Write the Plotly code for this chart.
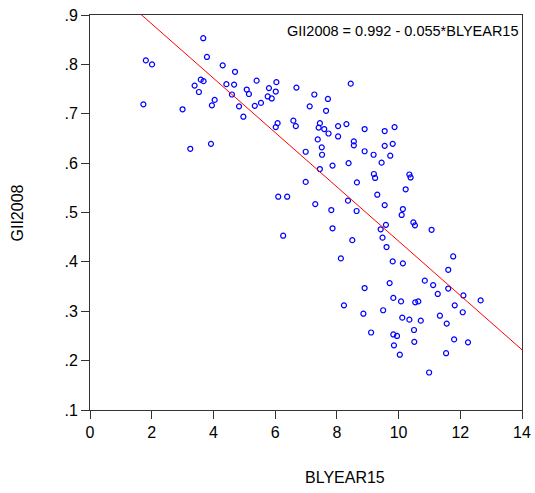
import plotly.graph_objects as go

# Scatter data (BLYEAR15, GII2008)
blyear15 = [
    3.67, 1.81, 2.01, 3.79, 4.30, 4.70, 3.59, 3.68, 3.39, 4.42,
    4.67, 3.53, 4.60, 1.73, 4.04, 3.95, 3.00, 3.92, 3.25, 5.40,
    5.08, 5.15, 4.83, 4.97, 5.80, 6.04, 6.02, 5.76, 5.89, 5.34,
    5.54, 6.69, 6.08, 6.02, 6.59, 6.67, 7.27, 7.71, 7.12, 7.65,
    8.45, 7.45, 7.41, 7.59, 7.73, 8.04, 8.31, 8.04, 8.90, 7.38,
    7.51, 6.99, 7.52, 8.55, 8.55, 8.90, 8.38, 7.86, 7.45, 6.99,
    8.65, 6.10, 6.39, 7.30, 8.36, 9.55, 9.87, 9.19, 9.55, 9.81,
    9.73, 9.45, 9.20, 9.24, 10.35, 10.39, 10.23, 9.31, 9.55, 7.82,
    8.64, 7.86, 6.26, 8.50, 8.13, 8.90, 8.23, 8.86, 10.14, 10.10,
    9.59, 9.42, 10.48, 10.53, 11.07, 9.48, 9.61, 11.77, 9.81, 10.14,
    11.61, 9.71, 10.85, 11.12, 11.61, 11.27, 12.10, 12.66, 9.83, 10.08,
    10.54, 10.64, 11.82, 9.50, 12.08, 10.12, 10.35, 10.72, 11.34, 11.56,
    10.50, 9.11, 9.83, 9.95, 11.80, 12.25, 10.51, 9.85, 10.04, 11.54,
    10.99,
]
gii2008 = [
    0.853, 0.808, 0.800, 0.815, 0.798, 0.785, 0.769, 0.766, 0.757, 0.760,
    0.759, 0.744, 0.739, 0.719, 0.728, 0.717, 0.709, 0.639, 0.629, 0.767,
    0.749, 0.740, 0.715, 0.694, 0.752, 0.764, 0.745, 0.735, 0.731, 0.716,
    0.722, 0.753, 0.681, 0.673, 0.686, 0.675, 0.739, 0.730, 0.715, 0.706,
    0.761, 0.681, 0.672, 0.669, 0.660, 0.675, 0.679, 0.654, 0.669, 0.648,
    0.632, 0.623, 0.617, 0.644, 0.636, 0.624, 0.600, 0.595, 0.588, 0.562,
    0.561, 0.532, 0.532, 0.517, 0.524, 0.665, 0.673, 0.617, 0.635, 0.639,
    0.615, 0.601, 0.578, 0.570, 0.577, 0.571, 0.547, 0.536, 0.515, 0.505,
    0.503, 0.468, 0.453, 0.444, 0.407, 0.347, 0.312, 0.295, 0.507, 0.495,
    0.475, 0.466, 0.480, 0.474, 0.465, 0.449, 0.430, 0.411, 0.401, 0.397,
    0.384, 0.357, 0.362, 0.353, 0.346, 0.335, 0.332, 0.322, 0.327, 0.320,
    0.318, 0.320, 0.312, 0.302, 0.298, 0.287, 0.283, 0.281, 0.291, 0.275,
    0.262, 0.257, 0.253, 0.250, 0.243, 0.237, 0.238, 0.231, 0.212, 0.215,
    0.176,
]

# Regression line coefficients
intercept = 0.992
slope = -0.055
line_x = [0, 14]
line_y = [intercept + slope * v for v in line_x]

x_ticks = [0, 2, 4, 6, 8, 10, 12, 14]
y_ticks = [0.1, 0.2, 0.3, 0.4, 0.5, 0.6, 0.7, 0.8, 0.9]
y_tick_labels = [".1", ".2", ".3", ".4", ".5", ".6", ".7", ".8", ".9"]

FONT = "Liberation Sans, Arial, sans-serif"

fig = go.Figure()
fig.add_trace(go.Scatter(
    x=blyear15, y=gii2008, mode="markers",
    marker=dict(symbol="circle-open", size=5, color="rgb(0,0,255)",
                line=dict(width=1.2, color="rgb(0,0,255)")),
    showlegend=False, hoverinfo="x+y",
))
fig.add_trace(go.Scatter(
    x=line_x, y=line_y, mode="lines",
    line=dict(color="rgb(255,0,0)", width=1),
    showlegend=False, hoverinfo="skip",
))

fig.update_layout(
    width=535, height=493,
    margin=dict(l=90, r=13, t=15, b=83, autoexpand=False),
    paper_bgcolor="white", plot_bgcolor="white",
    font=dict(family=FONT, size=16, color="black"),
    xaxis=dict(range=[0, 14], tickvals=x_ticks, ticks="outside", ticklen=8,
               tickcolor="#333333", showgrid=False, zeroline=False,
               showline=True, linecolor="#333333", linewidth=1, mirror=True,
               tickfont=dict(size=16), automargin=False),
    yaxis=dict(range=[0.1, 0.9], tickvals=y_ticks, ticktext=y_tick_labels,
               ticks="outside", ticklen=8, tickcolor="#333333",
               showgrid=False, zeroline=False, showline=True,
               linecolor="#333333", linewidth=1, mirror=True,
               tickfont=dict(size=16), automargin=False),
    annotations=[
        dict(text="GII2008 = 0.992 - 0.055*BLYEAR15", xref="paper", yref="paper",
             x=1, y=0.959, xanchor="right", yanchor="middle", xshift=-1,
             showarrow=False, font=dict(size=14.5, family=FONT, color="black")),
        dict(text="BLYEAR15", xref="paper", yref="paper",
             x=0.59, y=-0.172, xanchor="center", yanchor="middle",
             showarrow=False, font=dict(size=16, family=FONT, color="black")),
        dict(text="GII2008", xref="paper", yref="paper",
             x=-0.1667, y=0.5, xanchor="center", yanchor="middle",
             textangle=-90, showarrow=False,
             font=dict(size=16, family=FONT, color="black")),
    ],
)

fig.write_html("out.html")
